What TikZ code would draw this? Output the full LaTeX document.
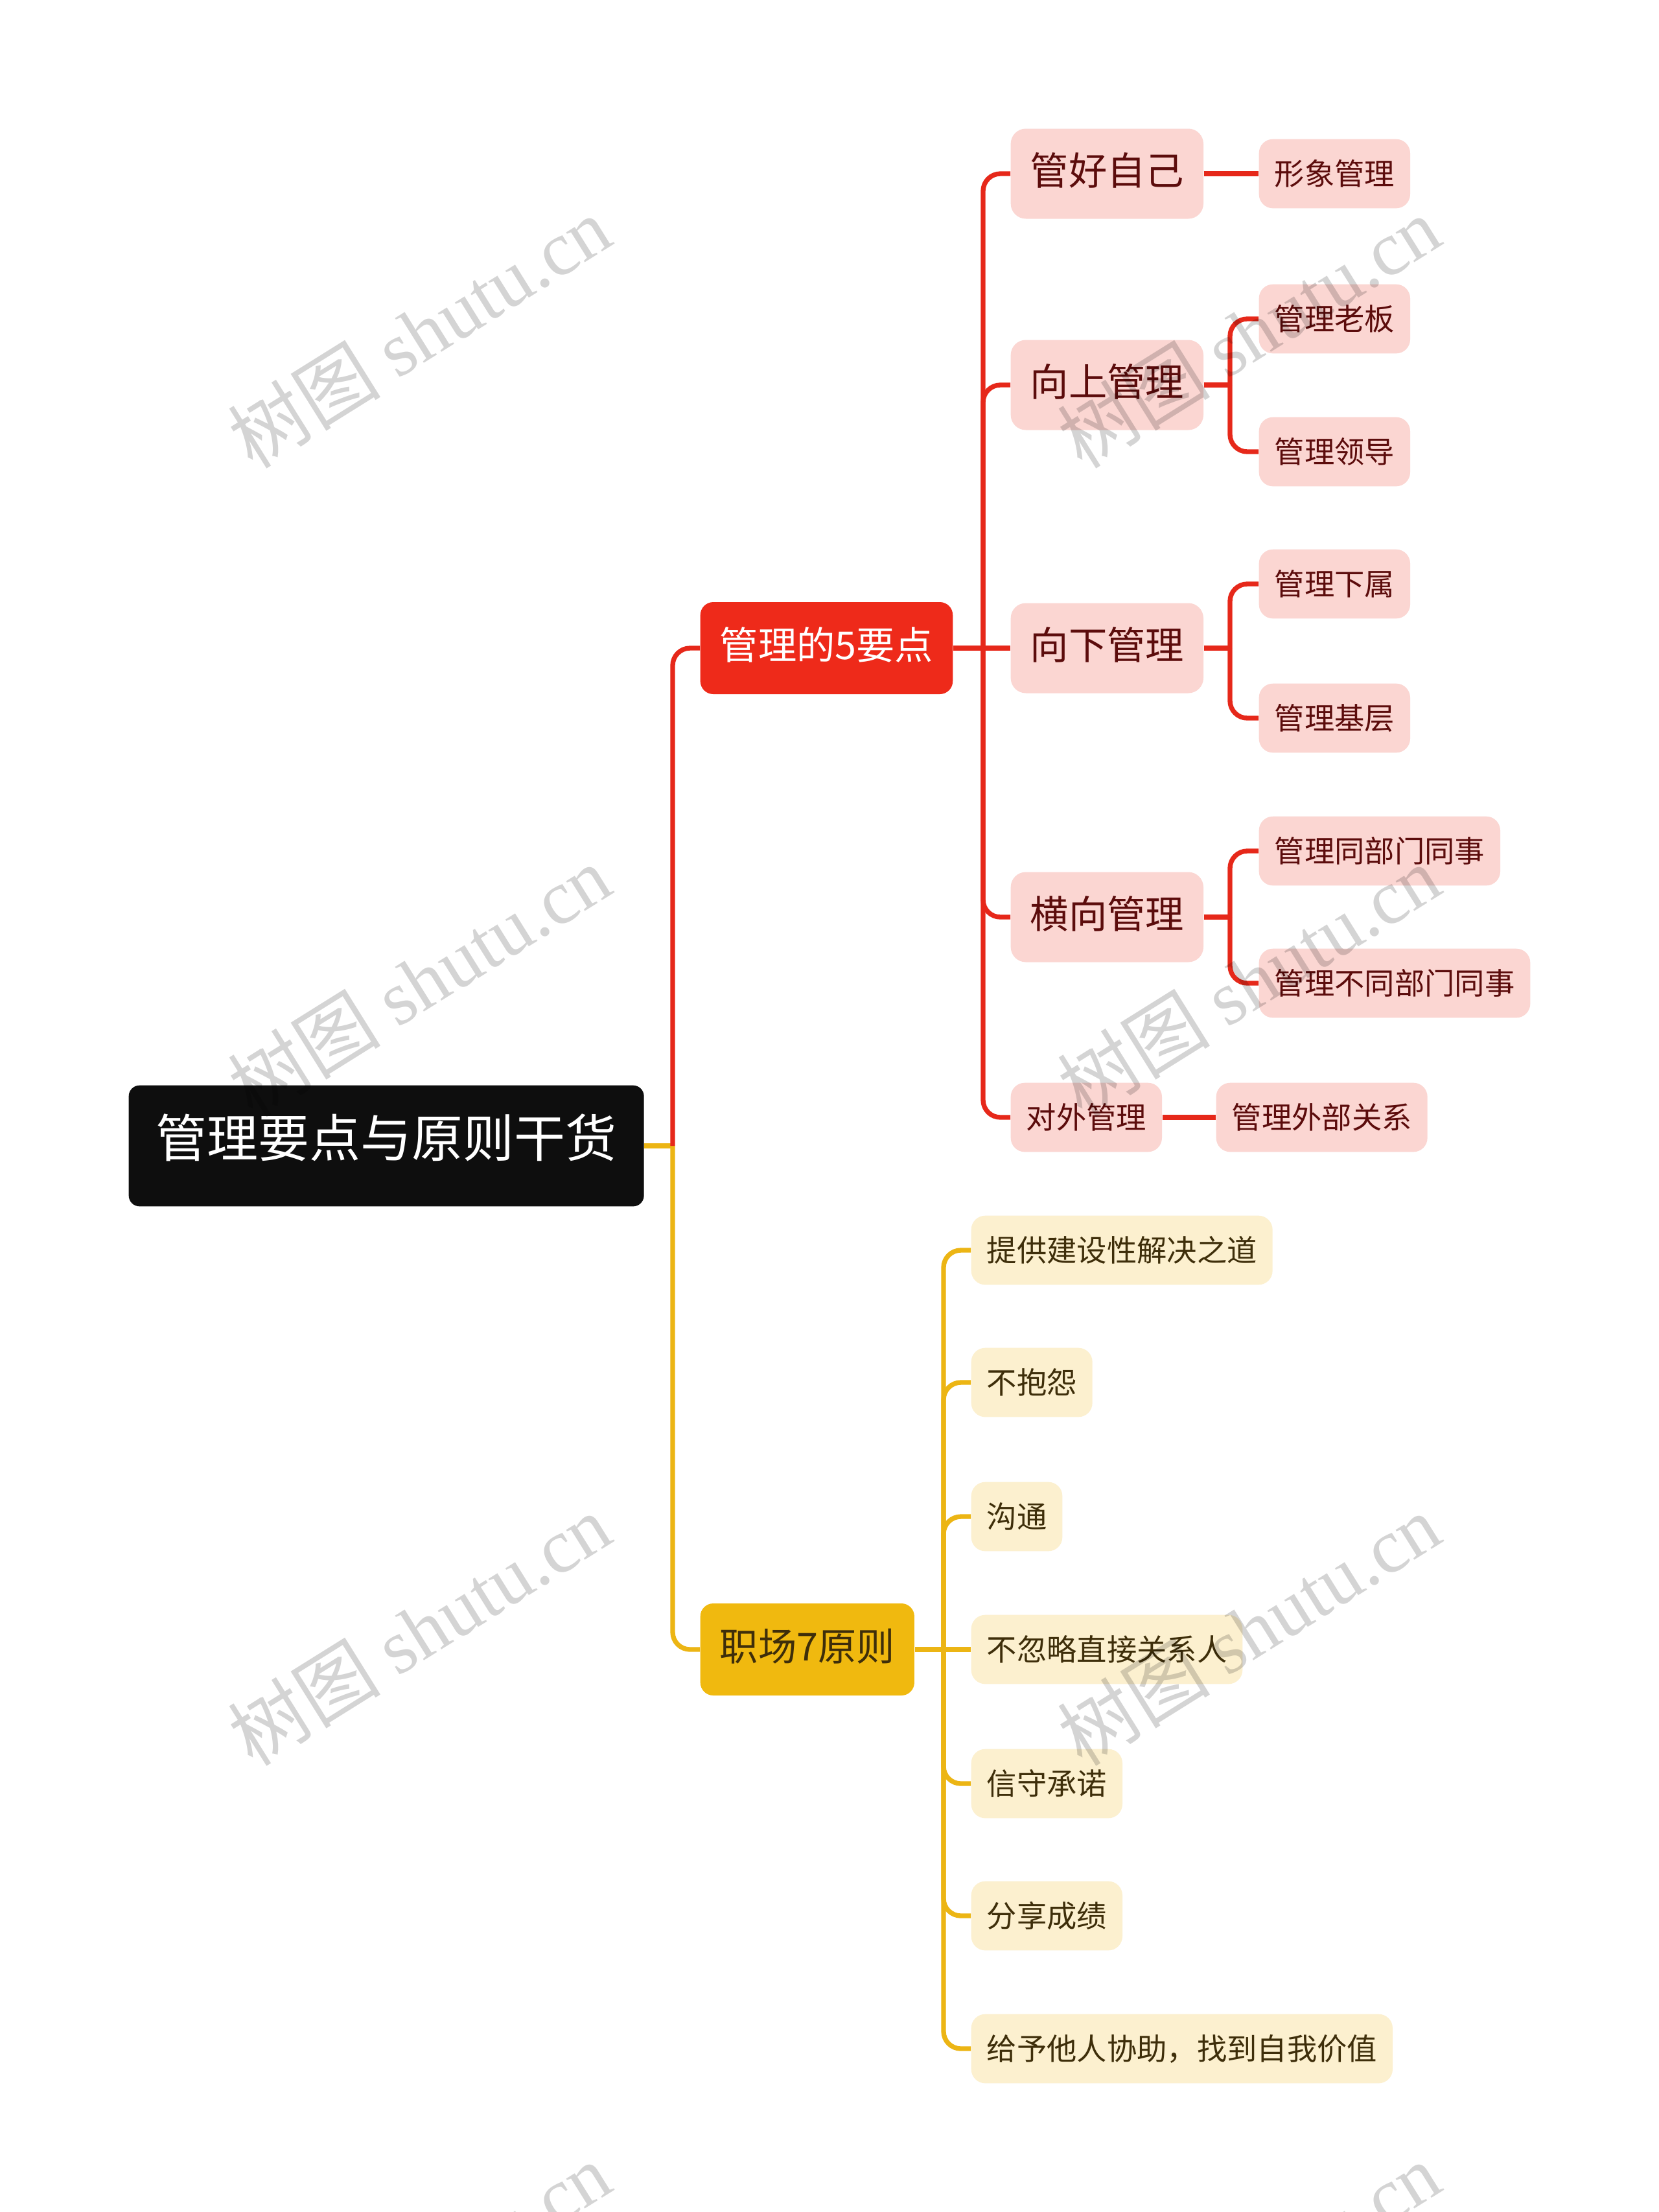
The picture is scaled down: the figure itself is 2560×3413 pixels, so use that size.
\documentclass[tikz,border=0pt]{standalone}
\usepackage{fontspec}
\setmainfont{Noto Sans CJK SC}
\newfontfamily\wmlat{Liberation Serif}
\definecolor{rootc}{RGB}{14,14,14}
\definecolor{redc}{RGB}{238,42,26}
\definecolor{redline}{RGB}{230,40,26}
\definecolor{pinkc}{RGB}{251,214,210}
\definecolor{maroon}{RGB}{92,12,12}
\definecolor{yelc}{RGB}{240,185,15}
\definecolor{yelline}{RGB}{236,181,20}
\definecolor{creamc}{RGB}{252,240,207}
\definecolor{browntxt}{RGB}{62,46,10}
\begin{document}
\begin{tikzpicture}[x=0.3pt,y=-0.3pt,
  box/.style={anchor=west, inner ysep=0pt, text height=1.02em, text depth=0em},
  rootbox/.style={box, fill=rootc, text=white, rounded corners=5pt, inner xsep=12.6pt, minimum height=56pt, font=\fontsize{23.7pt}{24pt}\selectfont},
  lonered/.style={box, fill=redc, text=white, rounded corners=6pt, inner xsep=9pt, minimum height=42.6pt, font=\fontsize{17.8pt}{18pt}\selectfont},
  loneyel/.style={box, fill=yelc, text=browntxt, rounded corners=6pt, inner xsep=9pt, minimum height=42.6pt, font=\fontsize{17.8pt}{18pt}\selectfont},
  ltwored/.style={box, fill=pinkc, text=maroon, rounded corners=7pt, inner xsep=9pt, minimum height=41.7pt, font=\fontsize{17.8pt}{18pt}\selectfont},
  lthreered/.style={box, fill=pinkc, text=maroon, rounded corners=6.5pt, inner xsep=7.2pt, minimum height=32pt, font=\fontsize{13.9pt}{14pt}\selectfont},
  lthreeyel/.style={box, fill=creamc, text=browntxt, rounded corners=6.5pt, inner xsep=7.2pt, minimum height=32pt, font=\fontsize{13.9pt}{14pt}\selectfont},
  rl/.style={draw=redline, line width=2.2pt, rounded corners=8pt},
  yl/.style={draw=yelline, line width=2.2pt, rounded corners=8pt},
  wm/.style={rotate=32, text=black, text opacity=0.17, inner sep=0pt, font=\fontsize{35.5pt}{36pt}\selectfont}
]
\useasboundingbox (0,0) rectangle (2560,3413);
\clip (0,0) rectangle (2560,3413);
\fill[white] (0,0) rectangle (2560,3413);

% nodes
\node[rootbox] (root) at (198,1768) {管理要点与原则干货};
\node[lonered] (A) at (1080,1000) {管理的5要点};
\node[loneyel] (B) at (1080,2545) {职场7原则};

\node[ltwored] (A1) at (1559,268) {管好自己};
\node[ltwored] (A2) at (1559,594) {向上管理};
\node[ltwored] (A3) at (1559,1000) {向下管理};
\node[ltwored] (A4) at (1559,1415) {横向管理};
\node[lthreered] (A5) at (1559,1724) {对外管理};

\node[lthreered] (A11) at (1942,268) {形象管理};
\node[lthreered] (A21) at (1942,492) {管理老板};
\node[lthreered] (A22) at (1942,697) {管理领导};
\node[lthreered] (A31) at (1942,901) {管理下属};
\node[lthreered] (A32) at (1942,1108) {管理基层};
\node[lthreered] (A41) at (1942,1313) {管理同部门同事};
\node[lthreered] (A42) at (1942,1517) {管理不同部门同事};
\node[lthreered] (A51) at (1876,1724) {管理外部关系};

\node[lthreeyel] (B1) at (1498,1929) {提供建设性解决之道};
\node[lthreeyel] (B2) at (1498,2133) {不抱怨};
\node[lthreeyel] (B3) at (1498,2340) {沟通};
\node[lthreeyel] (B4) at (1498,2545) {不忽略直接关系人};
\node[lthreeyel] (B5) at (1498,2752) {信守承诺};
\node[lthreeyel] (B6) at (1498,2956) {分享成绩};
\node[lthreeyel] (B7) at (1498,3161) {给予他人协助，找到自我价值};

% junctions
\coordinate (J0) at (1038,1768);
\coordinate (J1) at (1517,1000);
\coordinate (J2) at (1898,594);
\coordinate (J3) at (1898,1000);
\coordinate (J4) at (1898,1415);
\coordinate (J5) at (1456,2545);

% connectors root
\draw[yl] (root.east) -- (J0);
\draw[yl] (J0) |- (B.west);
\draw[rl] (J0) |- (A.west);

% red branch
\draw[rl] (A.east) -- (J1);
\draw[rl] (J1) |- (A1.west);
\draw[rl] (J1) |- (A2.west);
\draw[rl] (J1) -- (A3.west);
\draw[rl] (J1) |- (A4.west);
\draw[rl] (J1) |- (A5.west);

\draw[rl] (A1.east) -- (A11.west);
\draw[rl] (A2.east) -- (J2);
\draw[rl] (J2) |- (A21.west);
\draw[rl] (J2) |- (A22.west);
\draw[rl] (A3.east) -- (J3);
\draw[rl] (J3) |- (A31.west);
\draw[rl] (J3) |- (A32.west);
\draw[rl] (A4.east) -- (J4);
\draw[rl] (J4) |- (A41.west);
\draw[rl] (J4) |- (A42.west);
\draw[rl] (A5.east) -- (A51.west);

% yellow branch
\draw[yl] (B.east) -- (J5);
\draw[yl] (J5) |- (B1.west);
\draw[yl] (J5) |- (B2.west);
\draw[yl] (J5) |- (B3.west);
\draw[yl] (J5) -- (B4.west);
\draw[yl] (J5) |- (B5.west);
\draw[yl] (J5) |- (B6.west);
\draw[yl] (J5) |- (B7.west);

% watermarks
\foreach \wx/\wy [count=\i] in {647/512,1927/512,647/1513,1927/1513,647/2514,1927/2514,647/3515,1927/3515}{
  \node[wm] (wm\i) at (\wx,\wy) {树图 {\wmlat shutu.cn}};
}
\end{tikzpicture}
\end{document}
